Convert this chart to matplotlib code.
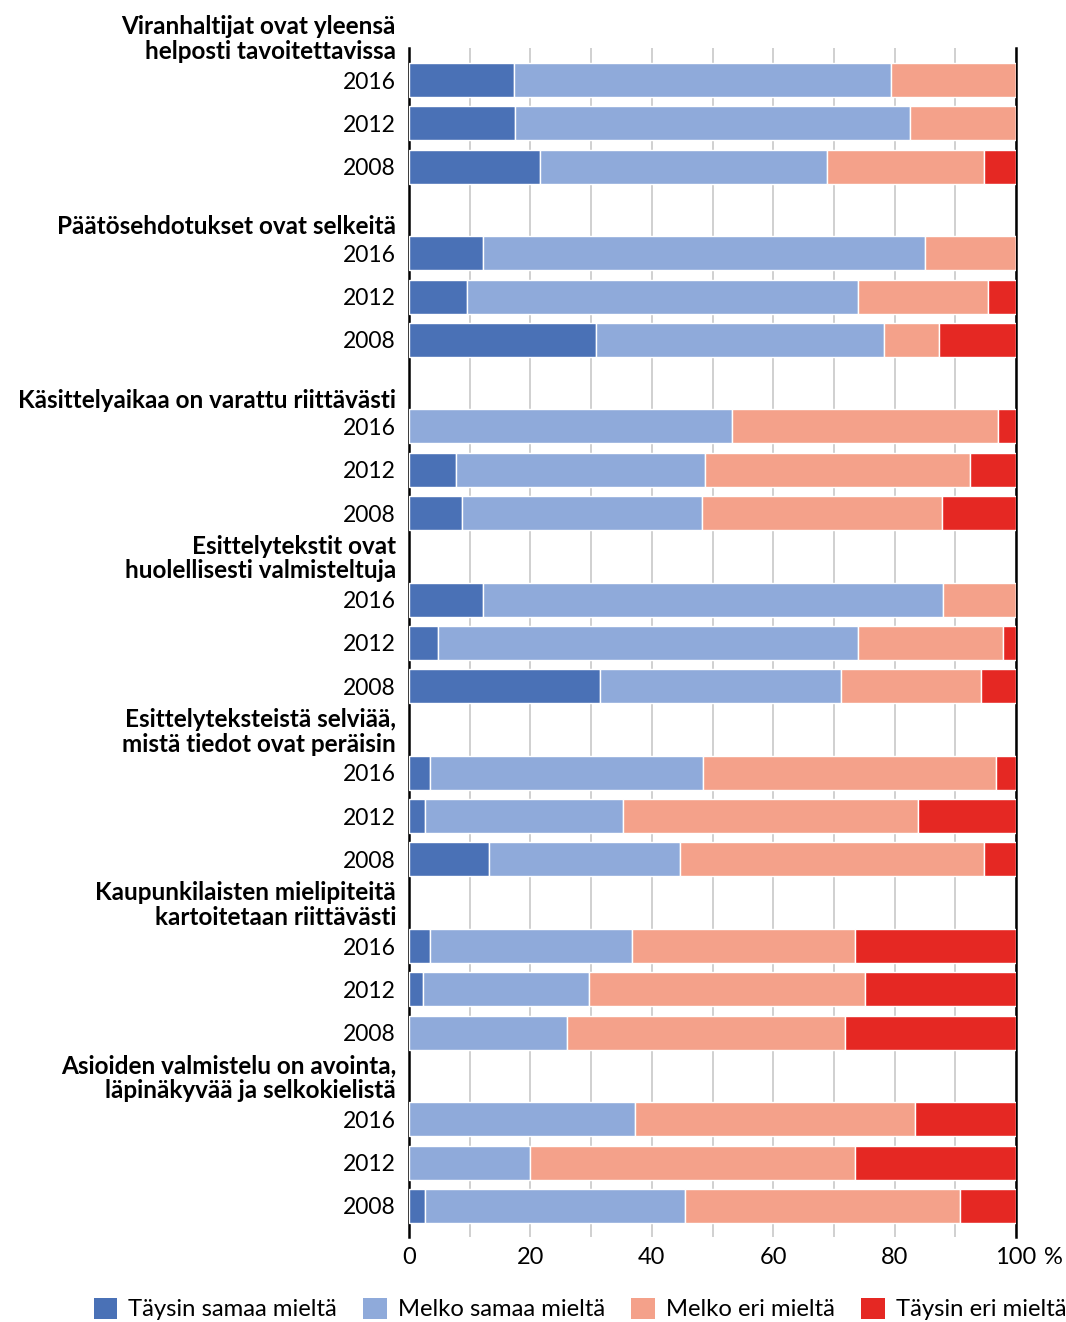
import matplotlib
matplotlib.use("Agg")
import matplotlib.pyplot as plt
from matplotlib.patches import Patch
import numpy as np

plt.rcParams['font.family'] = ['Lato', 'DejaVu Sans']

years = ['2016', '2012', '2008']
headers = [
    "Viranhaltijat ovat yleensä\nhelposti tavoitettavissa",
    "Päätösehdotukset ovat selkeitä",
    "Käsittelyaikaa on varattu riittävästi",
    "Esittelytekstit ovat\nhuolellisesti valmisteltuja",
    "Esittelyteksteistä selviää,\nmistä tiedot ovat peräisin",
    "Kaupunkilaisten mielipiteitä\nkartoitetaan riittävästi",
    "Asioiden valmistelu on avointa,\nläpinäkyvää ja selkokielistä",
]
series_names = ['Täysin samaa mieltä', 'Melko samaa mieltä', 'Melko eri mieltä', 'Täysin eri mieltä']

# values per group, order 2016, 2012, 2008
taysin_samaa = [17.3, 17.5, 21.5,  12.2, 9.5, 30.8,  0.0, 7.7, 8.7,  12.2, 4.8, 31.4,
                3.4, 2.6, 13.1,  3.4, 2.3, 0.0,  0.0, 0.0, 2.6]
melko_samaa = [62.1, 65.1, 47.4,  72.8, 64.4, 47.5,  53.2, 41.1, 39.6,  75.8, 69.1, 39.7,
               45.0, 32.6, 31.6,  33.3, 27.3, 26.0,  37.3, 20.0, 42.8]
melko_eri = [20.6, 17.4, 25.9,  15.0, 21.5, 9.0,  43.8, 43.7, 39.5,  12.0, 23.9, 23.2,
             48.3, 48.7, 50.0,  36.7, 45.5, 45.8,  46.0, 53.5, 45.4]
taysin_eri = [0.0, 0.0, 5.2,  0.0, 4.6, 12.7,  3.0, 7.5, 12.2,  0.0, 2.2, 5.7,
              3.3, 16.1, 5.3,  26.6, 24.9, 28.2,  16.7, 26.5, 9.2]

colors = ['#4A71B6', '#8FAADA', '#F4A18A', '#E52823']

fig = plt.figure(figsize=(10.66, 13.22), dpi=100)
ax = fig.add_axes([409/1066, 1 - 1237/1322, (1016-409)/1066, (1237-48)/1322])

n_groups = len(headers)
ypos = []
for g in range(n_groups):
    for i in range(len(years)):
        ypos.append(4*g + 1 + i)
ypos = np.array(ypos)

data = [taysin_samaa, melko_samaa, melko_eri, taysin_eri]
left = np.zeros(len(ypos))
for vals, col, name in zip(data, colors, series_names):
    vals = np.array(vals)
    ax.barh(ypos, vals, left=left, height=0.785, color=col, edgecolor='white',
            linewidth=1.0, label=name, zorder=3)
    left += vals

ax.set_xlim(0, 100)
ax.set_ylim(27.72, 0.26)
ax.set_yticks(ypos)
ax.set_yticklabels(years * n_groups)
ax.set_xticks(np.arange(0, 101, 20))
ax.set_xticks(np.arange(0, 101, 10), minor=True)
ax.tick_params(axis='both', which='both', length=0, colors='black')
ax.tick_params(axis='y', labelsize=16.5, pad=9.5)
ax.tick_params(axis='x', labelsize=17, pad=7)
ax.grid(axis='x', which='both', color='#C8C8C8', linewidth=1.2, zorder=0)
ax.set_axisbelow(True)
for s in ['top', 'bottom']:
    ax.spines[s].set_visible(False)
for s in ['left', 'right']:
    ax.spines[s].set_color('black')
    ax.spines[s].set_linewidth(1.8)

fig.text(1053/1066, 1 - 1258/1322, '%', fontsize=17, ha='center', va='center')

trans = ax.get_yaxis_transform()
for g, h in enumerate(headers):
    nlines = h.count('\n') + 1
    y = 4*g + (0.39 if nlines == 1 else 0.05)
    ax.text(-0.0214, y, h, transform=trans, ha='right', va='center', fontsize=17.5,
            fontweight='bold', linespacing=1.1, multialignment='right')

handles = [Patch(facecolor=c, edgecolor='none', label=n) for c, n in zip(colors, series_names)]
fig.legend(handles=handles, loc='center', bbox_to_anchor=(0.544, 0.0098), ncol=4,
           frameon=False, fontsize=17.2, handlelength=1.0, handleheight=1.0,
           handletextpad=0.45, columnspacing=1.1, borderpad=0, borderaxespad=0)

fig.savefig('out.png', dpi=100)
